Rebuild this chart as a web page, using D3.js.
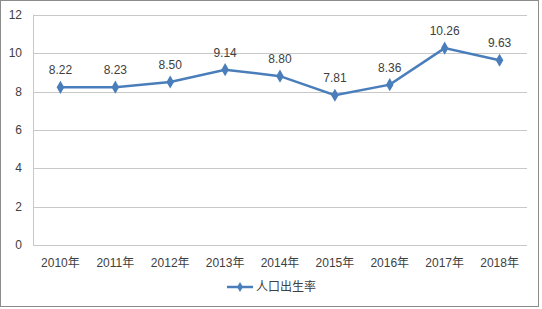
<!DOCTYPE html>
<html><head><meta charset="utf-8">
<script src="https://cdn.jsdelivr.net/npm/d3@7"></script>
<style>body{margin:0;background:#fff}svg{display:block}</style>
</head><body>
<script>
const years = ["2010年","2011年","2012年","2013年","2014年","2015年","2016年","2017年","2018年"];
const birthRate = [8.22,8.23,8.50,9.14,8.80,7.81,8.36,10.26,9.63];
const yTicks = [0,2,4,6,8,10,12];
const seriesName = "人口出生率";

const W=542,H=309;
const svg=d3.select("body").append("svg").attr("width",W).attr("height",H);
svg.append("rect").attr("x",0.5).attr("y",0.5).attr("width",538).attr("height",306)
  .attr("fill","#fff").attr("stroke","#8c8c8c");
const m={l:33,r:527,t:14.7,b:245.3};
const x=d3.scaleBand().domain(years).range([m.l,m.r]);
const y=d3.scaleLinear().domain([0,12]).range([m.b,m.t]);
const font="'Liberation Sans','DejaVu Sans','Noto Sans CJK SC',sans-serif";
const g=svg.append("g");
g.selectAll("line.grid").data(yTicks).join("line")
  .attr("x1",m.l).attr("x2",m.r).attr("y1",d=>Math.round(y(d))+0.5).attr("y2",d=>Math.round(y(d))+0.5)
  .attr("stroke","#c8c8c8");
g.append("line").attr("x1",m.l+0.5).attr("x2",m.l+0.5).attr("y1",m.t).attr("y2",m.b).attr("stroke","#c8c8c8");
g.selectAll("text.yt").data(yTicks).join("text")
  .attr("x",22).attr("y",d=>y(d)+4).attr("text-anchor","end")
  .attr("font-family",font).attr("font-size",12).attr("fill","#404040").text(d=>d);
g.selectAll("text.xt").data(years).join("text")
  .attr("x",d=>x(d)+x.bandwidth()/2).attr("y",267).attr("text-anchor","middle")
  .attr("font-family",font).attr("font-size",12).attr("fill","#404040").text(d=>d);
const pts=years.map((d,i)=>[x(d)+x.bandwidth()/2,y(birthRate[i])]);
g.append("path").attr("d",d3.line()(pts)).attr("fill","none").attr("stroke","#4a7ebb").attr("stroke-width",2.5);
g.selectAll("path.mk").data(pts).join("path")
  .attr("transform",d=>`translate(${d[0]},${d[1]})`)
  .attr("d",d3.symbol(d3.symbolDiamond,50)()).attr("fill","#4a7ebb");
g.selectAll("text.lb").data(birthRate).join("text")
  .attr("x",(d,i)=>pts[i][0]).attr("y",(d,i)=>pts[i][1]-13).attr("text-anchor","middle")
  .attr("font-family",font).attr("font-size",12).attr("fill","#404040").text(d=>d.toFixed(2));
// legend
const ly=287;
g.append("line").attr("x1",227).attr("x2",253).attr("y1",ly).attr("y2",ly).attr("stroke","#4a7ebb").attr("stroke-width",2.5);
g.append("path").attr("transform",`translate(240,${ly})`).attr("d",d3.symbol(d3.symbolDiamond,30)()).attr("fill","#4a7ebb");
g.append("text").attr("x",256).attr("y",ly+4).attr("font-family",font).attr("font-size",12).attr("fill","#404040").text(seriesName);
</script>
</body></html>
